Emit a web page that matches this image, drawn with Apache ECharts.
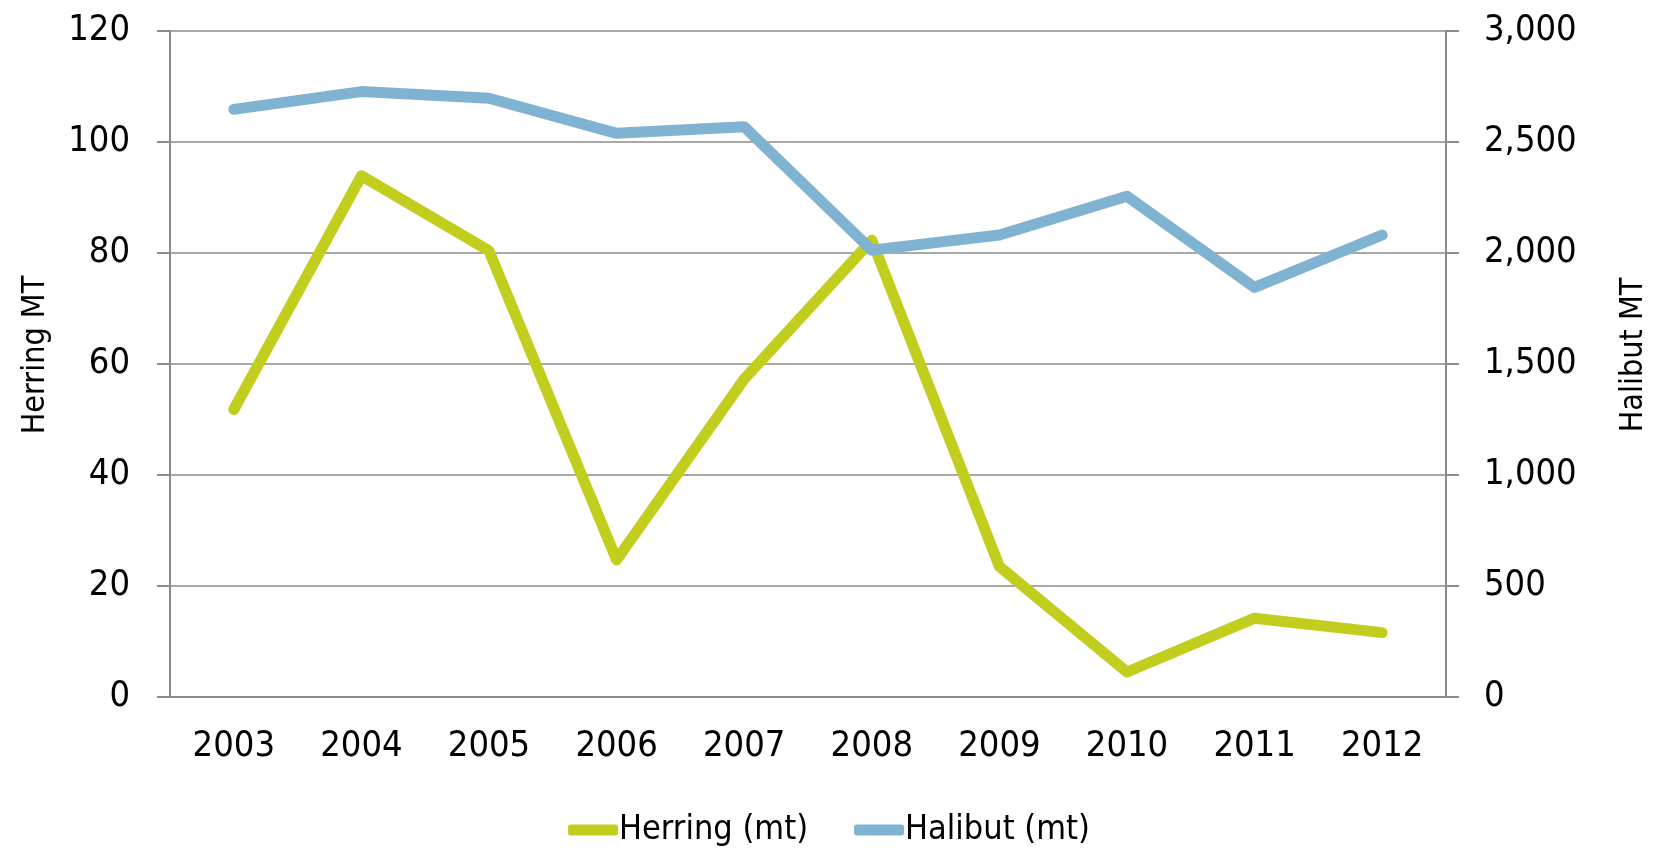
<!DOCTYPE html>
<html>
<head>
<meta charset="utf-8">
<script src="https://cdn.jsdelivr.net/npm/echarts@6/dist/echarts.min.js"></script>
<style>
  html, body { margin: 0; padding: 0; background: #fff; }
  #chart { width: 1658px; height: 851px; }
</style>
</head>
<body>
<div id="chart"></div>
<script>
// years on the x axis
const years = ['2003', '2004', '2005', '2006', '2007', '2008', '2009', '2010', '2011', '2012']
// herring catch, left axis (mt)
const herring = [51.8, 93.9, 80.4, 24.7, 57.3, 82.3, 23.5, 4.5, 14.2, 11.6]
// halibut catch, right axis (mt)
const halibut = [2647, 2727, 2697, 2539, 2569, 2013, 2081, 2256, 1845, 2081]

const font = '"DejaVu Sans Condensed", "Liberation Sans Narrow", sans-serif'
const axisGrey = '#8c8c8c'

const chart = echarts.init(document.getElementById('chart'))
chart.setOption({
  backgroundColor: '#fff',
  animation: false,
  grid: { left: 170, right: 208, top: 31, bottom: 154 },
  legend: {
    top: 808,
    left: 'center',
    itemWidth: 50,
    itemHeight: 11,
    itemGap: 46,
    icon: 'roundRect',
    textStyle: { fontFamily: font, fontSize: 34, color: '#000', padding: [0, 0, 0, -4] },
    data: ['Herring (mt)', 'Halibut (mt)']
  },
  xAxis: {
    type: 'category',
    data: years,
    boundaryGap: true,
    axisLine: { lineStyle: { color: axisGrey, width: 2 } },
    axisTick: { length: 12, lineStyle: { color: axisGrey, width: 2 } },
    axisLabel: { fontFamily: font, fontSize: 36, color: '#000', margin: 32 }
  },
  yAxis: [
    {
      type: 'value',
      min: 0,
      max: 120,
      interval: 20,
      name: 'Herring MT',
      nameLocation: 'middle',
      nameRotate: 90,
      nameGap: 118,
      nameTextStyle: { fontFamily: font, fontSize: 32, color: '#000', padding: [0, 0, 0, 18] },
      axisLine: { show: true, lineStyle: { color: axisGrey, width: 2 } },
      axisTick: { show: true, length: 13, lineStyle: { color: axisGrey, width: 2 } },
      axisLabel: { fontFamily: font, fontSize: 36, color: '#000', margin: 40 },
      splitLine: { lineStyle: { color: axisGrey, width: 1.5 } }
    },
    {
      type: 'value',
      min: 0,
      max: 3000,
      interval: 500,
      position: 'right',
      name: 'Halibut MT',
      nameLocation: 'middle',
      nameRotate: 90,
      nameGap: 172,
      nameTextStyle: { fontFamily: font, fontSize: 32, color: '#000', padding: [0, 0, 0, 18] },
      axisLine: { show: true, lineStyle: { color: axisGrey, width: 2 } },
      axisTick: { show: true, length: 13, lineStyle: { color: axisGrey, width: 2 } },
      axisLabel: {
        fontFamily: font, fontSize: 36, color: '#000', margin: 38,
        formatter: v => v.toLocaleString('en-US')
      },
      splitLine: { show: false }
    }
  ],
  series: [
    {
      name: 'Herring (mt)',
      type: 'line',
      yAxisIndex: 0,
      data: herring,
      symbol: 'none',
      color: '#c2ce1e',
      lineStyle: { width: 11, color: '#c2ce1e', cap: 'round', join: 'round' }
    },
    {
      name: 'Halibut (mt)',
      type: 'line',
      yAxisIndex: 1,
      data: halibut,
      symbol: 'none',
      color: '#80b3d2',
      lineStyle: { width: 11, color: '#80b3d2', cap: 'round', join: 'round' }
    }
  ]
})
</script>
</body>
</html>
